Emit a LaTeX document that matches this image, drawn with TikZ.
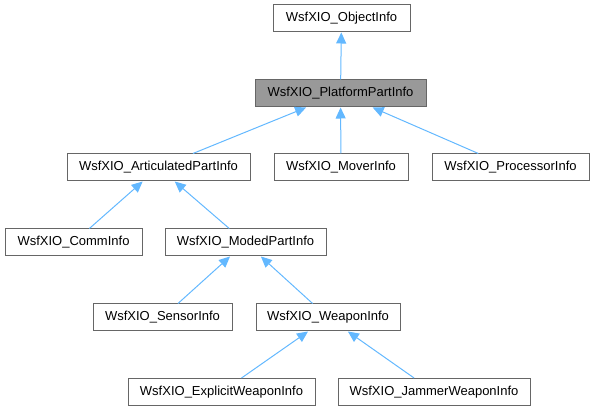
\documentclass[tikz,border=0pt]{standalone}
\usepackage{fontspec}
\setmainfont{Liberation Sans}
\usetikzlibrary{arrows.meta}
\definecolor{edgeblue}{HTML}{63B8FF}
\definecolor{boxgray}{HTML}{666666}
\definecolor{focusgray}{HTML}{999999}

\begin{document}
\begin{tikzpicture}[x=1pt,y=-1pt,->,>={Triangle[length=11pt,width=10pt]},
    edgeblue,line width=1pt,
    class node/.style={rectangle,draw=boxgray,fill=white,text=black,minimum height=27pt,inner sep=0pt,font=\fontsize{13}{15}\selectfont},
    focus node/.style={class node,fill=focusgray}]

  \useasboundingbox (0,0) rectangle (594,411);

  \node[class node,minimum width=137pt] (obj)    at (341.5,18.5) {WsfXIO\_ObjectInfo};
  \node[focus node,minimum width=171pt] (plat)   at (340.5,93.5) {WsfXIO\_PlatformPartInfo};
  \node[class node,minimum width=183pt] (art)    at (158.5,167.5) {WsfXIO\_ArticulatedPartInfo};
  \node[class node,minimum width=134pt] (mover)  at (341,167.5) {WsfXIO\_MoverInfo};
  \node[class node,minimum width=157pt] (proc)   at (510.5,167.5) {WsfXIO\_ProcessorInfo};
  \node[class node,minimum width=137pt] (comm)   at (73.5,242.5) {WsfXIO\_CommInfo};
  \node[class node,minimum width=161pt] (moded)  at (245.5,242.5) {WsfXIO\_ModedPartInfo};
  \node[class node,minimum width=139pt] (sensor) at (162.5,317.5) {WsfXIO\_SensorInfo};
  \node[class node,minimum width=144pt] (weapon) at (328,317.5) {WsfXIO\_WeaponInfo};
  \node[class node,minimum width=187pt] (expl)   at (221.5,392) {WsfXIO\_ExplicitWeaponInfo};
  \node[class node,minimum width=192pt] (jam)    at (434,392) {WsfXIO\_JammerWeaponInfo};

  \path (plat)   edge (obj)
        (art)    edge (plat)
        (mover)  edge (plat)
        (proc)   edge (plat)
        (comm)   edge (art)
        (moded)  edge (art)
        (sensor) edge (moded)
        (weapon) edge (moded)
        (expl)   edge (weapon)
        (jam)    edge (weapon)
        ;

\end{tikzpicture}
\end{document}
